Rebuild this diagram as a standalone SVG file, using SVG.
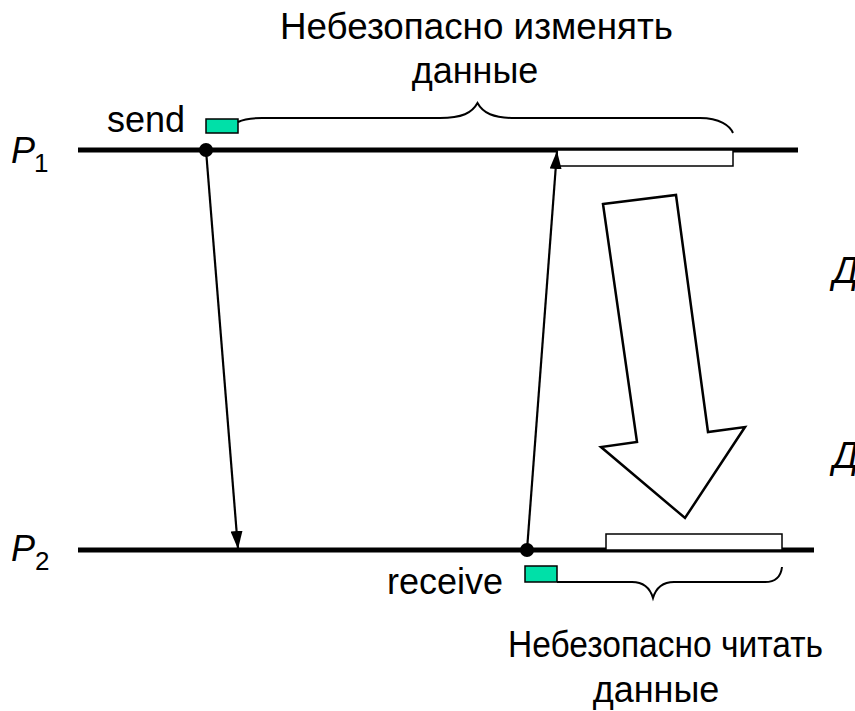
<svg xmlns="http://www.w3.org/2000/svg" width="855" height="711" viewBox="0 0 855 711">
  <defs>
    <marker id="arrowhead" viewBox="0 0 18 12" refX="18" refY="6" markerWidth="18" markerHeight="12" markerUnits="userSpaceOnUse" orient="auto">
      <path d="M0,0 L18,6 L0,12 Z" fill="#000"/>
    </marker>
    <style>
      .txt { font-family: "Liberation Sans", Arial, sans-serif; font-size: 36px; fill: #000; }
      .ital { font-style: italic; }
      .sub { font-family: "Liberation Sans", Arial, sans-serif; font-size: 26px; fill: #000; }
      .axis { stroke: #000; stroke-width: 5; fill: none; }
      .msg { stroke: #000; stroke-width: 2.2; fill: none; marker-end: url(#arrowhead); }
      .mark { fill: #00E0A8; stroke: #000; stroke-width: 1.5; }
      .span { fill: #fff; stroke: #000; stroke-width: 1.5; }
      .brace { fill: none; stroke: #000; stroke-width: 2; }
      .event { fill: #000; }
    </style>
  </defs>
  <rect width="855" height="711" fill="#fff"/>

  <!-- process P1 timeline -->
  <g id="p1">
    <line class="axis" x1="78" y1="150" x2="798" y2="150"/>
    <text class="txt ital" x="11" y="163">P</text>
    <text class="sub" x="34" y="172">1</text>
  </g>

  <!-- process P2 timeline -->
  <g id="p2">
    <line class="axis" x1="78" y1="550" x2="814" y2="550"/>
    <text class="txt ital" x="11" y="561">P</text>
    <text class="sub" x="35" y="570">2</text>
  </g>

  <!-- unsafe-to-modify interval on P1 -->
  <g id="p1-interval">
    <rect class="span" x="557" y="150" width="176" height="16"/>
  </g>

  <!-- unsafe-to-read interval on P2 -->
  <g id="p2-interval">
    <rect class="span" x="606" y="534" width="176" height="16"/>
  </g>

  <!-- send event -->
  <g id="send">
    <text class="txt" x="185" y="132" text-anchor="end">send</text>
    <rect class="mark" x="206" y="119" width="32" height="14"/>
  </g>

  <!-- receive event -->
  <g id="receive">
    <text class="txt" x="503" y="594" text-anchor="end">receive</text>
    <rect class="mark" x="525" y="566" width="32" height="16"/>
  </g>

  <!-- upper brace with caption -->
  <g id="modify-note">
    <path class="brace" d="M238,122 C244,119 250,118 262,118 L440,118 C462,118 472,113 477.5,103 C483,113 493,118 515,118 L700,118 C720,118 730,126 733,133"/>
    <text class="txt" x="280" y="39" textLength="393" lengthAdjust="spacingAndGlyphs">Небезопасно изменять</text>
    <text class="txt" x="475" y="83" text-anchor="middle">данные</text>
  </g>

  <!-- lower brace with caption -->
  <g id="read-note">
    <path class="brace" d="M557,582 L632,582 C644,582 650,588 653,598 C656,588 662,582 674,582 L765,582 C776,582 781,576 782,567"/>
    <text class="txt" x="508" y="657" textLength="315" lengthAdjust="spacingAndGlyphs">Небезопасно читать</text>
    <text class="txt" x="656" y="702" text-anchor="middle">данные</text>
  </g>

  <!-- clipped labels at right edge -->
  <g id="right-labels">
    <text class="txt ital" x="833" y="283">Д</text>
    <text class="txt ital" x="833" y="468">Д</text>
  </g>

  <!-- big hollow arrow between intervals -->
  <g id="transfer-arrow">
    <polygon points="603,204 676,195 708,432 745,427 685,518 601,447 637,442" fill="#fff" stroke="#000" stroke-width="2.5" stroke-linejoin="miter"/>
  </g>

  <!-- message connectors -->
  <g id="connectors">
    <line class="msg" x1="206" y1="150" x2="238" y2="549"/>
    <line class="msg" x1="527" y1="550" x2="557" y2="151"/>
    <circle class="event" cx="206" cy="150" r="7"/>
    <circle class="event" cx="527" cy="550" r="7"/>
  </g>
</svg>
